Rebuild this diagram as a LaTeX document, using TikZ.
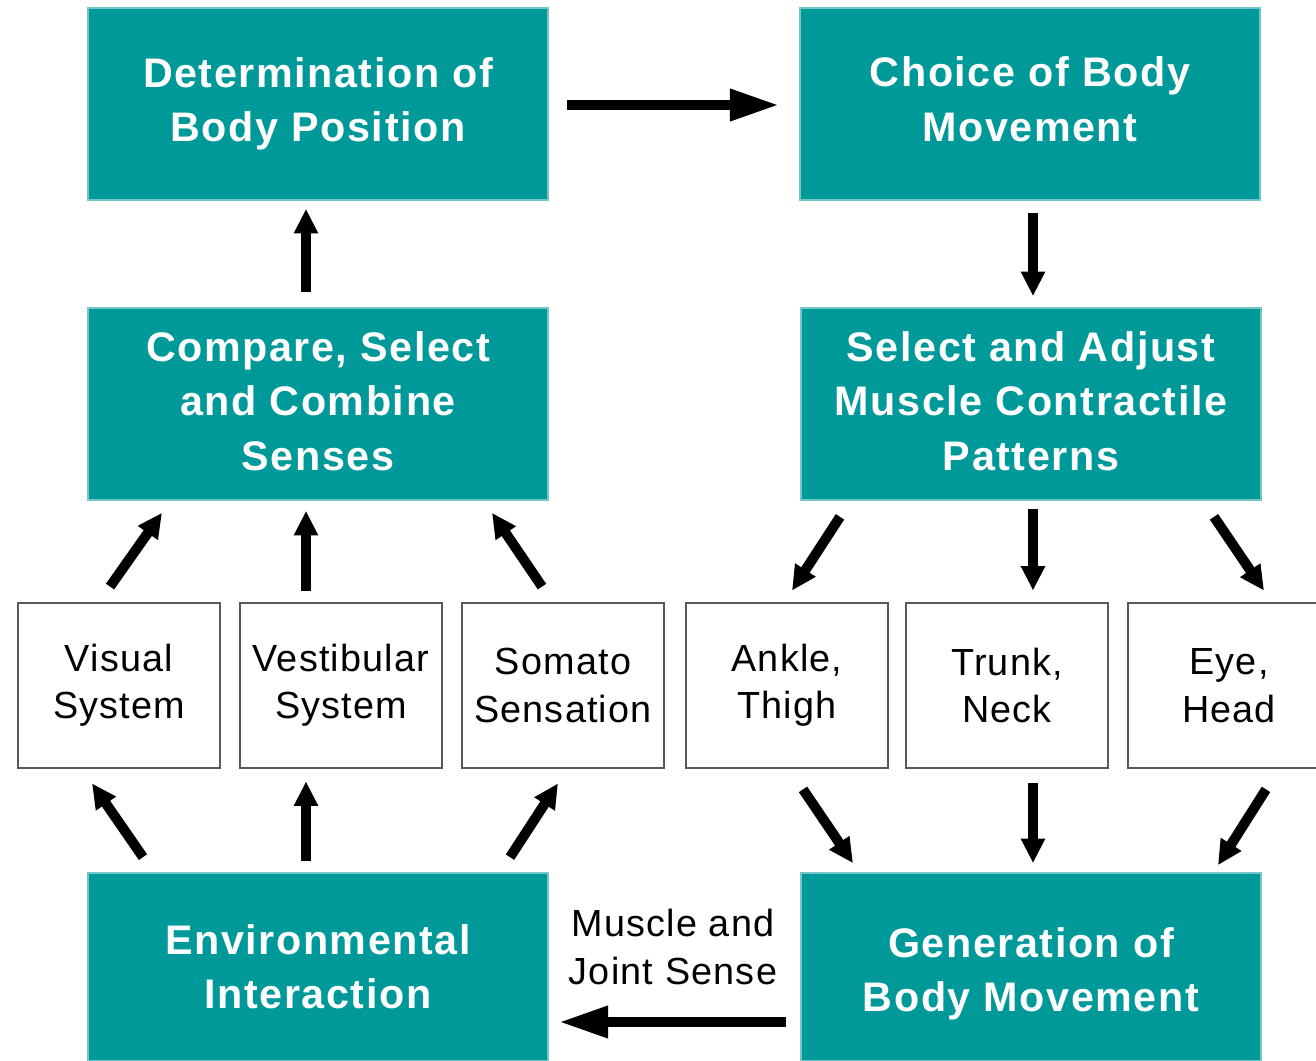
\documentclass[tikz,border=0pt]{standalone}
\usepackage{fontspec}
\setmainfont{Liberation Sans}[LetterSpace=3.2, BoldFeatures={LetterSpace=3.8}]
\usetikzlibrary{arrows.meta,calc}
\definecolor{boxteal}{RGB}{0,153,153}

\begin{document}
\begin{tikzpicture}[x=0.02cm, y=-0.02cm,
		mainbox/.style={fill=boxteal, draw=boxteal!55, line width=1pt, text=white,
			font=\bfseries\fontsize{23.5}{31}\selectfont, align=center, inner sep=0pt,
			minimum width=9.2cm, minimum height=3.84cm},
		partbox/.style={fill=white, draw=black!65, line width=1.6pt,
			font=\fontsize{21.5}{27}\selectfont, align=center, inner sep=0pt,
			minimum width=4.04cm, minimum height=3.3cm},
		arr/.style={line width=5.7pt, -{Triangle[length=14pt, width=13pt]}},
		longarr/.style={line width=5.7pt, -{Triangle[length=28pt, width=17pt]}}]
		\useasboundingbox (0,0) rectangle (1316,1061);

		% main stages
		\node[mainbox] (det) at (318,104) {Determination of\\Body Position};
		\node[mainbox] (choice) at (1030,104) {Choice of Body\\Movement\rule[-5.6pt]{0pt}{5.6pt}};
		\node[mainbox] (comp) at (318,404) {Compare, Select\\and Combine\\Senses\rule[-3.4pt]{0pt}{3.4pt}};
		\node[mainbox] (sel) at (1031,404) {Select and Adjust\\Muscle Contractile\\Patterns\rule[-3.4pt]{0pt}{3.4pt}};
		\node[mainbox, minimum height=3.76cm] (env) at (318,967) {Environmental\\Interaction};
		\node[mainbox, minimum height=3.76cm] (gen) at (1031,967) {\rule{0pt}{25pt}Generation of\\Body Movement};

		% sensors and body parts
		\node[partbox] (vis) at (119,685.5) {Visual\\System};
		\node[partbox] (vest) at (341,685.5) {Vestibular\\System};
		\node[partbox] (som) at (563,685.5) {Somato\\Sensation};
		\node[partbox] (ank) at (787,685.5) {Ankle,\\Thigh};
		\node[partbox] (trunk) at (1007,685.5) {Trunk,\\Neck};
		\node[partbox] (eye) at (1229,685.5) {Eye,\\Head};

		\node[font=\fontsize{21.5}{27}\selectfont, align=center] (mjs) at (673,947) {Muscle and\\Joint Sense};

		% top loop
		\draw[longarr] ($(det.east)+(18,1)$) -- ($(choice.west)+(-20,1)$);
		\draw[arr] ($(comp.north)+(-12,-15)$) -- ($(det.south)+(-12,8)$);
		\draw[arr] ($(choice.south)+(3,12)$) -- ($(sel.north)+(2,-11)$);

		% senses up to comparison
		\draw[arr] ($(vis.north)+(-9,-15)$) -- ($(comp.south)+(-156,12)$);
		\draw[arr] ($(vest.north)+(-35,-11)$) -- ($(comp.south)+(-12,10)$);
		\draw[arr] ($(som.north)+(-21,-15)$) -- ($(comp.south)+(174,12)$);

		% selection down to body parts
		\draw[arr] ($(sel.south)+(-191,16)$) -- ($(ank.north)+(5,-11)$);
		\draw[arr] ($(sel.south)+(2,8)$) -- ($(trunk.north)+(26,-11)$);
		\draw[arr] ($(sel.south)+(183,16)$) -- ($(eye.north)+(35,-11)$);

		% environment feeds the senses
		\draw[arr] ($(env.north)+(-175,-15)$) -- ($(vis.south)+(-27,14)$);
		\draw[arr] ($(env.north)+(-12,-11)$) -- ($(vest.south)+(-35,12)$);
		\draw[arr] ($(env.north)+(192,-15)$) -- ($(som.south)+(-5,14)$);

		% body parts into movement
		\draw[arr] ($(ank.south)+(16,20)$) -- ($(gen.north)+(-178,-9)$);
		\draw[arr] ($(trunk.south)+(26,14)$) -- ($(gen.north)+(2,-9)$);
		\draw[arr] ($(eye.south)+(37,20)$) -- ($(gen.north)+(187,-7)$);

		\draw[longarr] ($(gen.west)+(-14,55)$) -- ($(env.east)+(10,55)$);
	\end{tikzpicture}
\end{document}
